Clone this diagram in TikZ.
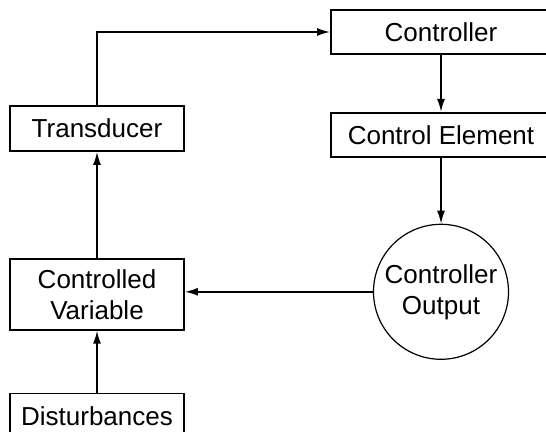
\documentclass[tikz,border=0pt]{standalone}
\usepackage{fontspec}
\setmainfont{Liberation Sans}
\usetikzlibrary{positioning, arrows.meta}

\begin{document}
\begin{tikzpicture}[
    block/.style={
        draw,
        rectangle,
        line width=0.9pt,
        inner sep=0pt,
        minimum height=22.5pt,
        minimum width=87pt,
        align=center,
        font=\fontsize{13}{15.5}\selectfont
    },
    wideblock/.style={block, minimum width=110pt, minimum height=22pt},
    round/.style={
        draw,
        circle,
        line width=0.6pt,
        inner sep=0pt,
        minimum size=67.5pt,
        align=center,
        font=\fontsize{13}{15.5}\selectfont
    },
    arrow/.style={line width=0.8pt, -{Latex[length=6.5pt,width=4pt]}}
]
\useasboundingbox (0,0) rectangle (273pt,-216pt);

% Left column
\node[block] (trans) at (48.5pt,-64.25pt) {Transducer};

\node[block, minimum height=35.5pt, below=53pt of trans] (cvar) {Controlled\\Variable};

\node[block, below=31pt of cvar] (dist) {Disturbances};

% Right column
\node[wideblock] (ctrl) at (220.5pt,-16pt) {Controller};

\node[wideblock, below=28.5pt of ctrl] (celem) {Control Element};

\node[round, below=33pt of celem] (cout) {Controller\\Output};

% Arrows
\draw[arrow] (trans.north) |- (ctrl.west);
\draw[arrow] (ctrl) -- (celem);
\draw[arrow] (celem) -- (cout);
\draw[arrow] (cout.west) -- (cout.west -| cvar.east);
\draw[arrow] (cvar) -- (trans);
\draw[arrow] (dist) -- (cvar);

\end{tikzpicture}
\end{document}
